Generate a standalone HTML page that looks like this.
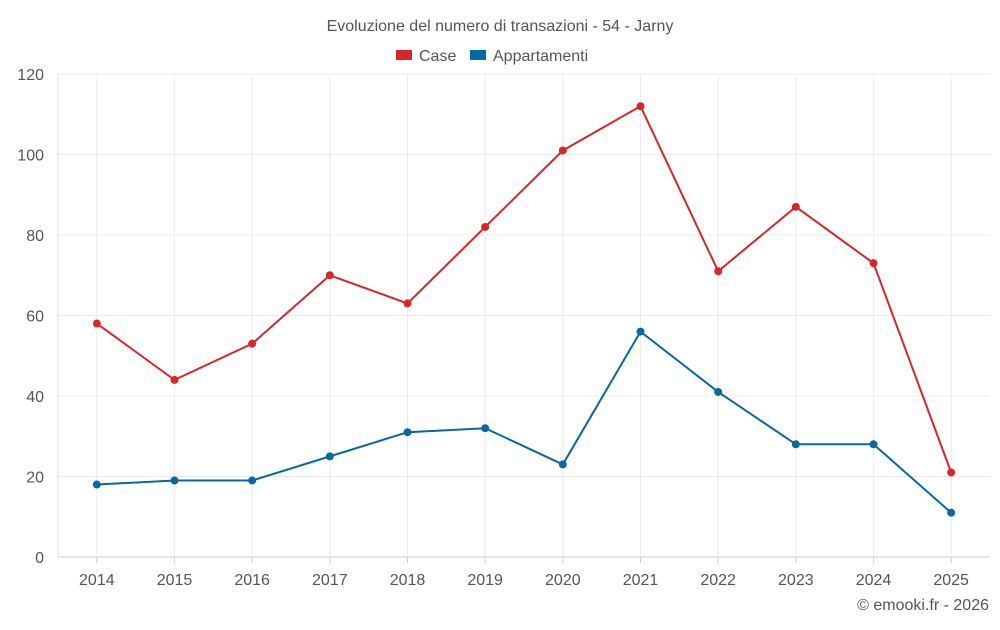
<!DOCTYPE html>
<html><head><meta charset="utf-8"><style>
body{margin:0;background:#fff;font-family:"Liberation Sans",sans-serif;}
svg text{font-family:"Liberation Sans",sans-serif;}
</style></head><body>
<svg id="chart" width="1000" height="625" xmlns="http://www.w3.org/2000/svg">
<text x="500" y="31" text-anchor="middle" font-size="16" fill="#555">Evoluzione del numero di transazioni - 54 - Jarny</text>
<g><rect x="396" y="50" width="16" height="10" fill="#d62728"/><text x="419" y="61" font-size="16" fill="#555">Case</text></g>
<g><rect x="470" y="50" width="16" height="10" fill="#1f77b4" style="fill:#0868a1"/><text x="493" y="61" font-size="16" fill="#555">Appartamenti</text></g>
<g id="grid"></g><g id="axes"></g><g id="series"></g>
<text x="989" y="610" text-anchor="end" font-size="16" fill="#555">© emooki.fr - 2026</text>
</svg>
<script>
const years=[2014,2015,2016,2017,2018,2019,2020,2021,2022,2023,2024,2025];
const caseVals=[58,44,53,70,63,82,101,112,71,87,73,21];
const appVals=[18,19,19,25,31,32,23,56,41,28,28,11];
const yTicks=[0,20,40,60,80,100,120];
const NS="http://www.w3.org/2000/svg";
const L=58,R=990,T=74,B=557,yMax=120;
const bw=(R-L)/years.length;
const xp=i=>L+bw*(i+0.5);
const yp=v=>B-(v/yMax)*(B-T);
function mk(tag,attrs,parent){const e=document.createElementNS(NS,tag);for(const k in attrs)e.setAttribute(k,attrs[k]);parent.appendChild(e);return e;}
const grid=document.getElementById('grid'),axes=document.getElementById('axes'),ser=document.getElementById('series');
yTicks.forEach(t=>{
 const l=mk('line',{x1:L,x2:R,y1:yp(t),y2:yp(t),stroke:t===0?'#ccc':'#ececec','stroke-width':1},grid);
 
 
 const tx=mk('text',{x:44,y:yp(t)+6,'text-anchor':'end','font-size':16,fill:'#555'},axes);
 tx.textContent=t;
 
 
});
years.forEach((y,i)=>{
 const l=mk('line',{x1:xp(i),x2:xp(i),y1:T,y2:B,stroke:'#ececec','stroke-width':1},grid);
 
 
 const tk=mk('line',{x1:xp(i),x2:xp(i),y1:B,y2:B+6,stroke:'#ccc'},axes);
 
 
 const tx=mk('text',{x:xp(i),y:585,'text-anchor':'middle','font-size':16,fill:'#555'},axes);
 tx.textContent=y;
 
 
});
const vl=mk('line',{x1:L,x2:L,y1:T,y2:B,stroke:'#e0e0e0'},grid);


function series(vals,color,name){
 const p=mk('polyline',{points:vals.map((v,i)=>xp(i)+','+yp(v)).join(' '),fill:'none',stroke:color,'stroke-width':2},ser);
 
 
 vals.forEach((v,i)=>{
  const c=mk('circle',{cx:xp(i),cy:yp(v),r:4,fill:color},ser);
  
  
 });
}
series(caseVals,'#d62728','case');
series(appVals,'#0868a1','appartamenti');
</script>
</body></html>
